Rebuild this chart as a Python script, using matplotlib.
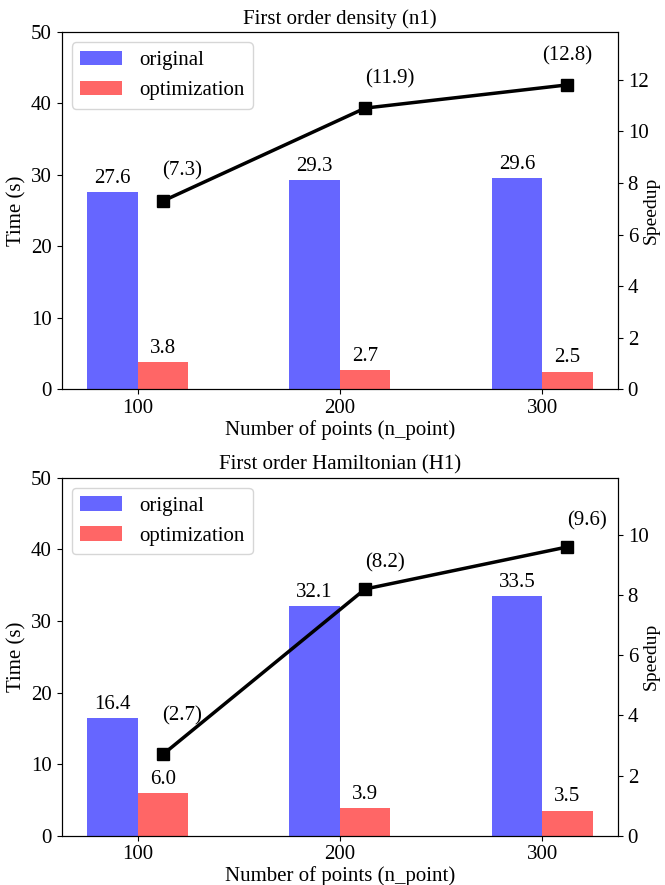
import matplotlib as mpl
mpl.use('Agg')
from matplotlib import pyplot as plt
import numpy as np

plt.rcParams['font.family'] = ['Liberation Serif', 'DejaVu Serif']
plt.rcParams['font.size'] = 15

## ------------------------------------------------------------------
##  Data
## ------------------------------------------------------------------
n_points = ['100', '200', '300']

titles = ['First order density (n1)', 'First order Hamiltonian (H1)']

original = [[27.6, 29.3, 29.6],
            [16.4, 32.1, 33.5]]
optimized = [[3.8, 2.7, 2.5],
             [6.0, 3.9, 3.5]]

# plotted speedup and the text written next to each marker
speedup = [[7.3, 10.9, 11.8],
           [2.7, 8.2, 9.6]]
speedup_text = [['(7.3)', '(11.9)', '(12.8)'],
                ['(2.7)', '(8.2)', '(9.6)']]

speedup_max = [13.85, 11.9]

blue = '#6666ff'
red = '#ff6666'
width = 0.25

fig = plt.figure(figsize=(6.65, 8.85), dpi=100)
ax_boxes = [[0.0928, 0.5599, 0.8365, 0.4040],
            [0.0928, 0.0557, 0.8365, 0.4045]]

# label offsets in points (dx, dy) relative to each marker
text_offsets = [[(14, 22), (18, 21), (0, 21)],
                [(14, 28), (14, 19), (14, 19)]]

for i in range(2):
    ax = fig.add_axes(ax_boxes[i])
    x = np.arange(len(n_points))
    b1 = ax.bar(x - width/2, original[i], width, color=blue, label='original')
    b2 = ax.bar(x + width/2, optimized[i], width, color=red, label='optimization')
    ax.bar_label(b1, fmt='%.1f', padding=3)
    ax.bar_label(b2, fmt='%.1f', padding=3)
    ax.set_ylim(0, 50)
    ax.set_xticks(x)
    ax.set_xticklabels(n_points)
    ax.set_xlabel('Number of points (n_point)', labelpad=1)
    ax.set_ylabel('Time (s)', labelpad=3)
    ax.set_title(titles[i], fontsize=15)
    ax.legend(loc='upper left', fontsize=15)

    ax2 = ax.twinx()
    ax2.plot(x + width/2, speedup[i], 'k-', marker='s', markersize=8,
             linewidth=2.5)
    for j in range(len(x)):
        ax2.annotate(speedup_text[i][j], (x[j] + width/2, speedup[i][j]),
                     xytext=text_offsets[i][j], textcoords='offset points',
                     ha='center', va='center')
    ax2.set_ylim(0, speedup_max[i])
    ax2.set_ylabel('Speedup', fontsize=14)
    ax2.yaxis.set_label_coords(1.045, 0.5)

fig.savefig('out.png', dpi=100)
